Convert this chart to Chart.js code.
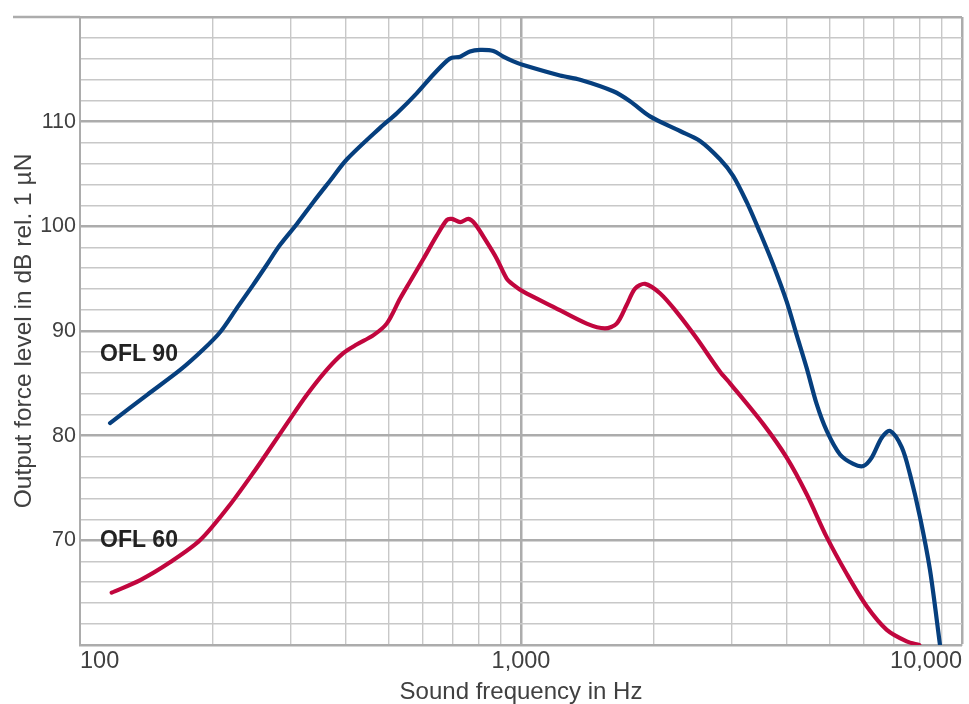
<!DOCTYPE html>
<html>
<head>
<meta charset="utf-8">
<script src="https://cdn.jsdelivr.net/npm/chart.js@4.4.1/dist/chart.umd.min.js"></script>
<style>
  html, body { margin: 0; padding: 0; background: #fff; }
  #wrap { width: 969px; height: 704px; }
</style>
</head>
<body>
<div id="wrap"><canvas id="grafica" width="969" height="704"></canvas></div>
<script>
// --- DATOS ---
const xGridValues = [100, 200, 300, 400, 500, 600, 700, 800, 900,
                     1000, 2000, 3000, 4000, 5000, 6000, 7000, 8000, 9000, 10000];
const xLabelValues = [100, 1000, 10000];
const xTickLabels = ['100', '1,000', '10,000'];
const yLabelValues = [70, 80, 90, 100, 110];

const ofl90Freq = [117, 142, 169, 190, 208, 227, 247, 265, 284, 310, 338, 369, 403, 479, 523,
                   580, 633, 679, 697, 728, 766, 807, 866, 912, 961, 1012, 1226, 1361, 1619,
                   1767, 1961, 2294, 2546, 2827, 3029, 3250, 3483, 3734, 4004, 4219, 4445,
                   4683, 4935, 5289, 5668, 5973, 6241, 6576, 6867, 7299, 7623, 8032, 8462, 8915];
const ofl90Level = [81.2, 83.9, 86.3, 88.2, 89.9, 92.2, 94.4, 96.3, 98.2, 100.2, 102.3, 104.35, 106.4, 109.4, 110.8,
                    112.7, 114.5, 115.8, 116.1, 116.2, 116.7, 116.85, 116.75, 116.2, 115.75, 115.4, 114.4, 114.0, 112.9,
                    111.95, 110.5, 109.1, 108.15, 106.4, 104.8, 102.3, 99.4, 96.3, 92.8, 89.6, 86.45,
                    83.0, 80.45, 78.2, 77.3, 77.1, 77.9, 79.8, 80.45, 78.9, 76.3, 72.2, 67.15, 60.0];

const ofl60Freq = [118, 137, 160, 187, 217, 249, 274, 294, 327, 363, 396, 424, 463, 496, 532,
                   560, 601, 644, 679, 697, 728, 760, 787, 836, 881, 928, 961, 1012, 1184,
                   1409, 1550, 1648, 1737, 1814, 1911, 2066, 2255, 2502, 2827, 2978, 3543,
                   4004, 4445, 4935, 5477, 6080, 6752, 7491, 8002];
const ofl60Level = [65.0, 66.2, 67.9, 70.0, 73.2, 76.65, 79.2, 81.1, 83.9, 86.3, 87.9, 88.7, 89.6, 90.7, 93.1,
                    94.7, 96.9, 99.1, 100.6, 100.7, 100.4, 100.7, 100.2, 98.5, 96.9, 95.0, 94.4, 93.75, 92.3,
                    90.7, 90.25, 90.7, 92.5, 94.05, 94.5, 93.6, 91.8, 89.3, 86.1, 85.0, 81.1,
                    77.9, 74.4, 70.3, 66.8, 63.7, 61.45, 60.35, 60.0];

// etiquetas de las curvas
const curveLabels = ['OFL 90', 'OFL 60'];
const curveLabelFreq = [111, 111];
const curveLabelLevel = [87.7, 70.0];

const FONT = "'Liberation Sans', Arial, Helvetica, sans-serif";
const TEXT_COLOR = '#404040';
const GRID_MAJOR = '#acacac';
const GRID_MINOR = '#c8c8c8';

Chart.defaults.font.family = FONT;

// --- PLUGIN: etiquetas y linea superior ---
const extrasPlugin = {
    id: 'extras',
    afterDraw(chart) {
        const {ctx, chartArea, scales} = chart;
        ctx.save();
        // linea superior que sale a la izquierda
        ctx.strokeStyle = GRID_MAJOR;
        ctx.lineWidth = 2.5;
        ctx.beginPath();
        ctx.moveTo(13, chartArea.top);
        ctx.lineTo(chartArea.left, chartArea.top);
        ctx.stroke();

        ctx.fillStyle = '#222';
        ctx.font = `bold 23px ${FONT}`;
        ctx.textAlign = 'left';
        ctx.textBaseline = 'middle';
        curveLabels.forEach((txt, i) => {
            const x = scales.x.getPixelForValue(curveLabelFreq[i]);
            const y = scales.y.getPixelForValue(curveLabelLevel[i]);
            ctx.fillText(txt, x, y);
        });
        ctx.restore();
    }
};

function toPoints(freq, level) {
    return freq.map((f, i) => ({x: f, y: level[i]}));
}

new Chart(document.getElementById('grafica').getContext('2d'), {
    type: 'line',
    data: {
        datasets: [
            {
                label: 'OFL 90',
                data: toPoints(ofl90Freq, ofl90Level),
                borderColor: '#063f7e',
                borderWidth: 4.2,
                tension: 0.3,
                pointRadius: 0,
                fill: false,
                borderCapStyle: 'round'
            },
            {
                label: 'OFL 60',
                data: toPoints(ofl60Freq, ofl60Level),
                borderColor: '#c1063e',
                borderWidth: 4.2,
                tension: 0.3,
                pointRadius: 0,
                fill: false,
                borderCapStyle: 'round'
            }
        ]
    },
    options: {
        responsive: false,
        animation: false,
        layout: { padding: { left: 0, right: 7, top: 13, bottom: 0 } },
        plugins: {
            legend: { display: false },
            tooltip: { enabled: false }
        },
        scales: {
            x: {
                type: 'logarithmic',
                min: 100,
                max: 10000,
                afterBuildTicks: (scale) => {
                    scale.ticks = xGridValues.map(v => ({value: v}));
                },
                afterFit: (scale) => { scale.height = 59; },
                ticks: {
                    autoSkip: false,
                    maxRotation: 0,
                    minRotation: 0,
                    align: 'inner',
                    padding: 2,
                    color: TEXT_COLOR,
                    font: { size: 23.5 },
                    callback: (value) => {
                        const i = xLabelValues.indexOf(value);
                        return i >= 0 ? xTickLabels[i] : '';
                    }
                },
                grid: {
                    drawTicks: false,
                    color: (c) => (c.tick && (c.tick.value === 1000 || c.tick.value === 10000)) ? GRID_MAJOR : GRID_MINOR,
                    lineWidth: (c) => (c.tick && (c.tick.value === 1000 || c.tick.value === 10000)) ? 2.5 : 1.4
                },
                border: { color: GRID_MAJOR, width: 2 },
                title: {
                    display: true,
                    text: 'Sound frequency in Hz',
                    color: TEXT_COLOR,
                    font: { size: 24, lineHeight: 1 },
                    padding: { top: 0, bottom: 0 }
                }
            },
            y: {
                min: 60,
                max: 120,
                afterFit: (scale) => { scale.width = 80; },
                ticks: {
                    stepSize: 2,
                    autoSkip: false,
                    padding: 4,
                    color: TEXT_COLOR,
                    font: { size: 21.5 },
                    callback: (value) => yLabelValues.includes(value) ? String(value) : ''
                },
                grid: {
                    drawTicks: false,
                    color: (c) => (c.tick && c.tick.value % 10 === 0) ? GRID_MAJOR : GRID_MINOR,
                    lineWidth: (c) => (c.tick && c.tick.value % 10 === 0) ? 2.5 : 1.4
                },
                border: { color: GRID_MAJOR, width: 2 },
                title: {
                    display: true,
                    text: 'Output force level in dB rel. 1 µN',
                    color: TEXT_COLOR,
                    font: { size: 24.5, lineHeight: 1 },
                    padding: { top: 12, bottom: 0 }
                }
            }
        }
    },
    plugins: [extrasPlugin]
});
</script>
</body>
</html>
